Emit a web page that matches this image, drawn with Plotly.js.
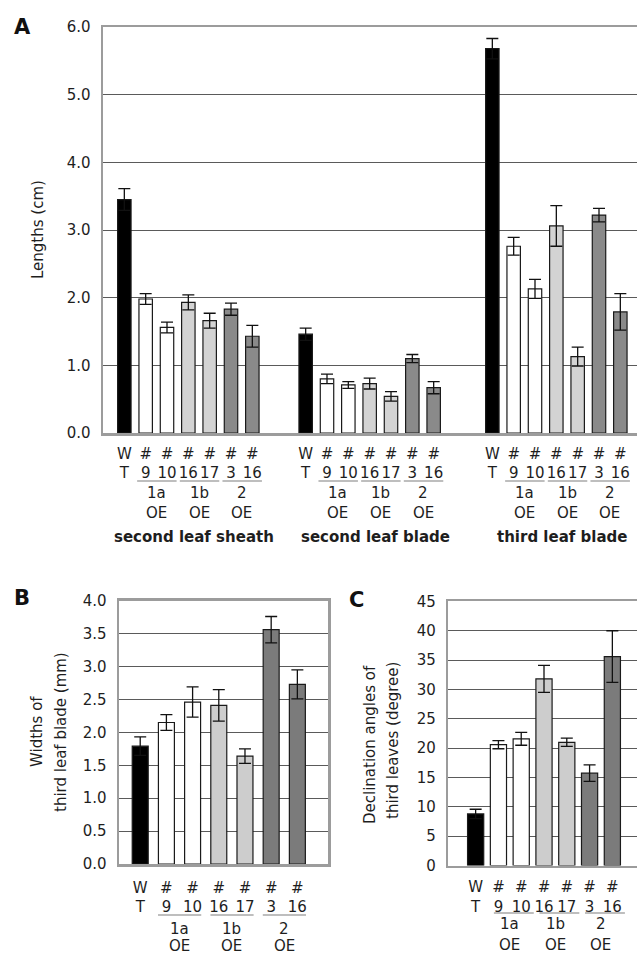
<!DOCTYPE html>
<html>
<head>
<meta charset="utf-8">
<script src="https://cdn.plot.ly/plotly-3.0.1.min.js"></script>
<style>
html,body{margin:0;padding:0;overflow:hidden;background:#fff;}
#chart{width:660px;height:956px;}
</style>
</head>
<body>
<div id="chart"></div>
<script>
// ---------- data ----------
const tickTop = ['W','#','#','#','#','#','#'];
const tickBottom = ['T','9','10','16','17','3','16'];
const constructs = ['1a','1b','2'];
const constructMembers = [[1,2],[3,4],[5,6]];
const groupNames = ['second leaf sheath','second leaf blade','third leaf blade'];

const sheathLen  = [3.45, 1.98, 1.56, 1.93, 1.66, 1.83, 1.43];
const sheathErr  = [0.16, 0.08, 0.08, 0.11, 0.11, 0.09, 0.16];
const blade2Len  = [1.46, 0.80, 0.71, 0.73, 0.54, 1.10, 0.67];
const blade2Err  = [0.09, 0.07, 0.05, 0.08, 0.07, 0.06, 0.09];
const blade3Len  = [5.68, 2.76, 2.13, 3.06, 1.13, 3.22, 1.79];
const blade3Err  = [0.15, 0.13, 0.14, 0.30, 0.14, 0.10, 0.27];

const bladeWidth = [1.79, 2.15, 2.46, 2.41, 1.64, 3.56, 2.73];
const bladeWidthErr = [0.14, 0.12, 0.23, 0.24, 0.11, 0.20, 0.22];

const declAngle = [8.8, 20.6, 21.6, 31.8, 21.0, 15.75, 35.6];
const declAngleErr = [0.8, 0.7, 1.1, 2.3, 0.7, 1.4, 4.4];

const colorsA  = ['#000000','#ffffff','#ffffff','#d3d3d3','#d3d3d3','#8a8a8a','#8a8a8a'];
const colorsBC = ['#000000','#ffffff','#ffffff','#cdcdcd','#cdcdcd','#7b7b7b','#7b7b7b'];

// ---------- layout helpers ----------
const W = 660, H = 956;
const fx = p => p / W;
const fy = p => 1 - p / H;
const FONT = 'DejaVu Sans';
const TXT = '#1e1e1e';
const idx = tickTop.map((_, i) => i);
const ticktext = tickTop.map((t, i) => t + '<br>' + tickBottom[i]);
const groupOffsetA = [0, 8.5, 17.25];
const seriesA = [[sheathLen, sheathErr],[blade2Len, blade2Err],[blade3Len, blade3Err]];

const traces = [];
const posA = [];
seriesA.forEach((s, g) => {
  const xs = idx.map(i => groupOffsetA[g] + i);
  posA.push(xs);
  traces.push({
    type:'bar', x: xs, y: s[0], width: 0.63, xaxis:'x', yaxis:'y',
    marker:{color: colorsA, line:{color:'#1a1a1a', width:1.2}},
    error_y:{type:'data', array: s[1], visible:true, color:'#111', thickness:1.3, width:6},
    hoverinfo:'skip', showlegend:false
  });
});
traces.push({
  type:'bar', x: idx, y: bladeWidth, width: 0.61, xaxis:'x2', yaxis:'y2',
  marker:{color: colorsBC, line:{color:'#1a1a1a', width:1.2}},
  error_y:{type:'data', array: bladeWidthErr, visible:true, color:'#111', thickness:1.3, width:6},
  hoverinfo:'skip', showlegend:false
});
traces.push({
  type:'bar', x: idx, y: declAngle, width: 0.71, xaxis:'x3', yaxis:'y3',
  marker:{color: colorsBC, line:{color:'#1a1a1a', width:1.2}},
  error_y:{type:'data', array: declAngleErr, visible:true, color:'#111', thickness:1.3, width:6},
  hoverinfo:'skip', showlegend:false
});

const frame = {showline:true, mirror:true, linecolor:'#9c9c9c', linewidth:2.5, zeroline:false};
const tickfont = {family:FONT, size:15, color:TXT};

function xAxis(domain, range, vals, texts, standoff, anchor){
  return Object.assign({}, frame, {
    domain, range, anchor, tickmode:'array', tickvals: vals, ticktext: texts,
    tickangle: 0, showgrid:false, ticks:'', tickfont, ticklabelstandoff: standoff, fixedrange:true
  });
}
function yAxis(domain, range, dtick, fmt, anchor){
  return Object.assign({}, frame, {
    domain, range, anchor, dtick, tickformat: fmt, showgrid:true,
    gridcolor:'#5a5a5a', gridwidth:1, ticks:'', tickfont, ticklabelstandoff: 7, fixedrange:true
  });
}

const allPosA = [].concat(...posA);
const allTextA = [].concat(...posA.map(() => ticktext));
const annotations = [];
const shapes = [];

function addText(text, x, y, xref, opts){
  annotations.push(Object.assign({
    text, x, y, xref, yref:'paper', showarrow:false,
    xanchor:'center', yanchor:'middle',
    font:{family:FONT, size:15, color:TXT}
  }, opts || {}));
}

// Panel A construct lines & labels
posA.forEach((xs, g) => {
  constructMembers.forEach((m, c) => {
    shapes.push({type:'line', xref:'x', yref:'paper',
      x0: xs[m[0]] - 0.4, x1: xs[m[1]] + 0.45, y0: fy(481), y1: fy(481),
      line:{color:'#a8a8a8', width:1.5}});
    const mid = (xs[m[0]] + xs[m[1]]) / 2;
    addText(constructs[c], mid, fy(493), 'x');
    addText('OE', mid, fy(513), 'x');
  });
  addText('<b>' + groupNames[g] + '</b>', xs[3] + 0.25, fy(537), 'x');
});

// Panel B
constructMembers.forEach((m, c) => {
  shapes.push({type:'line', xref:'x2', yref:'paper',
    x0: m[0] - 0.32, x1: m[1] + 0.33, y0: fy(915), y1: fy(915),
    line:{color:'#a8a8a8', width:1.5}});
  const mid = (m[0] + m[1]) / 2;
  addText(constructs[c], mid, fy(929), 'x2');
  addText('OE', mid, fy(946), 'x2');
});
// Panel C
constructMembers.forEach((m, c) => {
  shapes.push({type:'line', xref:'x3', yref:'paper',
    x0: m[0] - 0.2, x1: m[1] + 0.55, y0: fy(913), y1: fy(913),
    line:{color:'#a8a8a8', width:1.5}});
  const mid = (m[0] + m[1]) / 2;
  addText(constructs[c], mid, fy(924), 'x3');
  addText('OE', mid, fy(945), 'x3');
});

// Panel letters
const letterFont = {family:FONT, size:21, color:'#111'};
addText('<b>A</b>', fx(12), fy(27), 'paper', {xanchor:'left', font:letterFont});
addText('<b>B</b>', fx(12), fy(598), 'paper', {xanchor:'left', font:letterFont});
addText('<b>C</b>', fx(347), fy(600), 'paper', {xanchor:'left', font:letterFont});

// Y titles
addText('Lengths (cm)', fx(38), fy(230), 'paper', {textangle:-90});
addText('Widths of', fx(37), fy(732), 'paper', {textangle:-90});
addText('third leaf blade (mm)', fx(61), fy(732), 'paper', {textangle:-90});
addText('Declination angles of', fx(370), fy(744), 'paper', {textangle:-90});
addText('third leaves (degree)', fx(393), fy(741), 'paper', {textangle:-90});

const layout = {
  width: W, height: H,
  margin:{l:0, r:0, t:0, b:0},
  paper_bgcolor:'#ffffff', plot_bgcolor:'#ffffff',
  bargap: 0,
  font:{family:FONT, color:TXT},
  xaxis:  xAxis([fx(103), fx(647)], [-1, 24.5], allPosA, allTextA, 5, 'y'),
  yaxis:  yAxis([fy(433), fy(27)], [0, 6], 1, '.1f', 'x'),
  xaxis2: xAxis([fx(119), fx(328)], [-0.81, 7.17], idx, ticktext, 8, 'y2'),
  yaxis2: yAxis([fy(864), fy(600.7)], [0, 4], 0.5, '.1f', 'x2'),
  xaxis3: xAxis([fx(448.3), fx(647)], [-1.2, 7.52], idx, ticktext, 6, 'y3'),
  yaxis3: yAxis([fy(865.6), fy(601.4)], [0, 45], 5, 'd', 'x3'),
  annotations, shapes
};

Plotly.newPlot('chart', traces, layout, {staticPlot:true, displayModeBar:false});
</script>
</body>
</html>
